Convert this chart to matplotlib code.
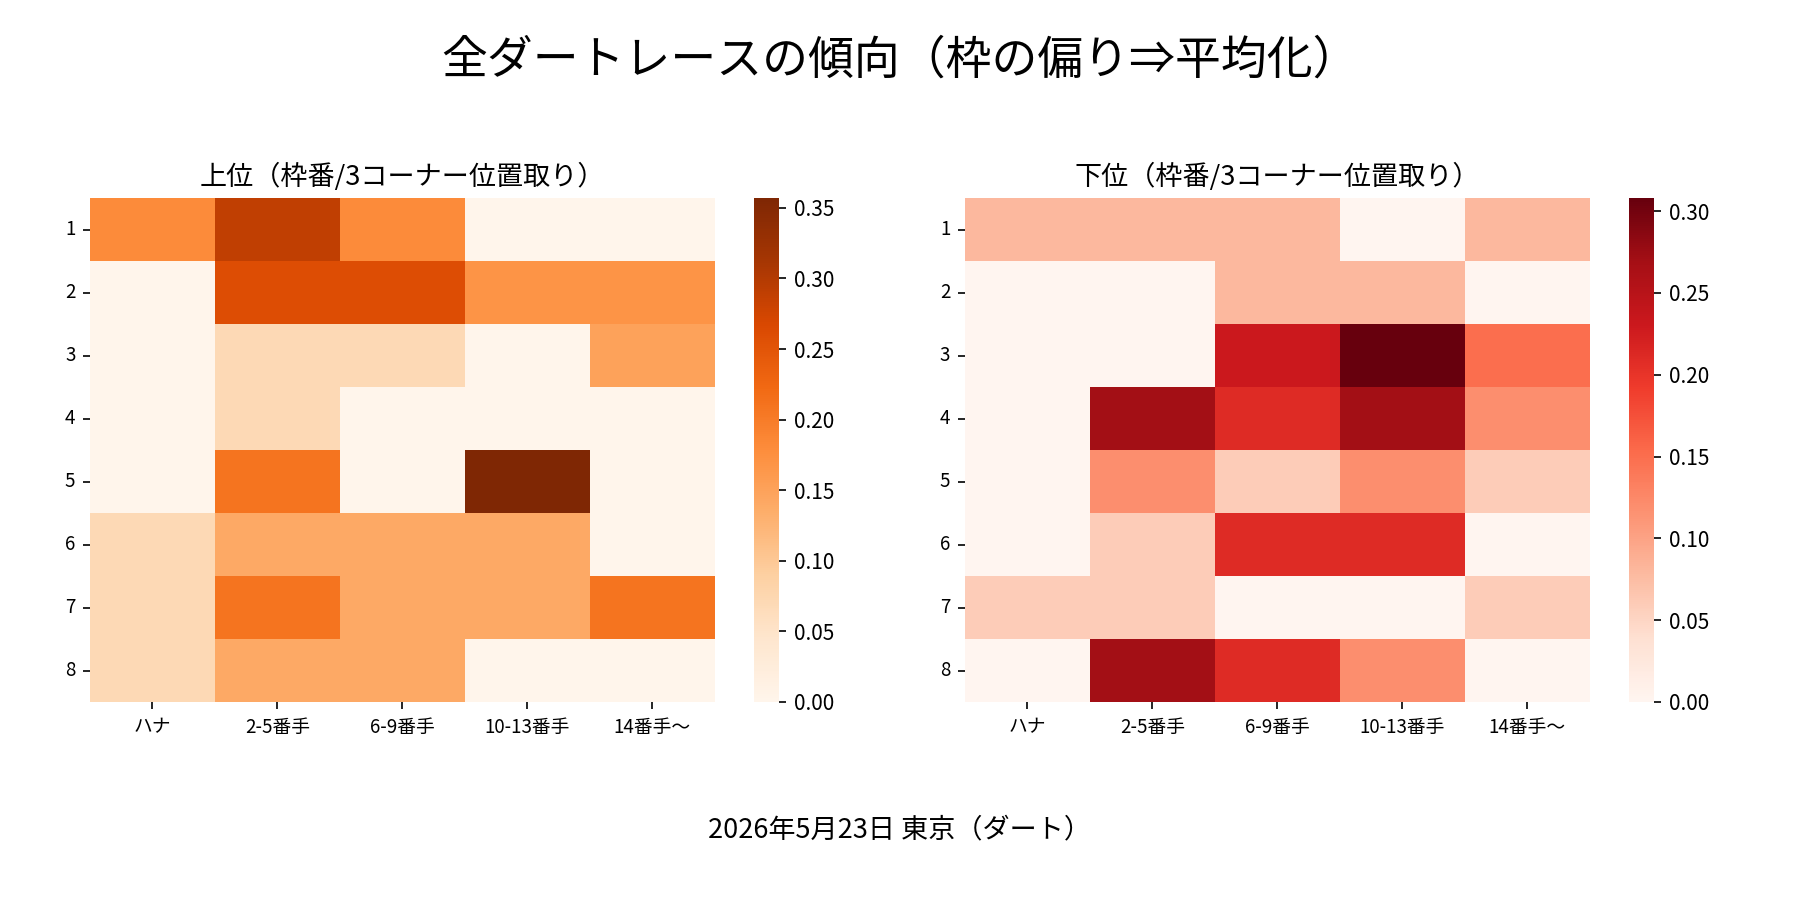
import matplotlib
matplotlib.use("Agg")
import matplotlib.pyplot as plt
import numpy as np
import seaborn as sns

plt.rcParams['font.family'] = ['Noto Sans CJK JP', 'DejaVu Sans']

cols = ["ハナ", "2-5番手", "6-9番手", "10-13番手", "14番手〜"]
rows = ["1", "2", "3", "4", "5", "6", "7", "8"]

upper = np.array([
    [0.18, 0.29, 0.18, 0.00, 0.00],
    [0.00, 0.26, 0.26, 0.17, 0.17],
    [0.00, 0.07, 0.07, 0.00, 0.15],
    [0.00, 0.07, 0.00, 0.00, 0.00],
    [0.00, 0.21, 0.00, 0.357, 0.00],
    [0.07, 0.14, 0.14, 0.14, 0.00],
    [0.07, 0.21, 0.14, 0.14, 0.21],
    [0.07, 0.14, 0.14, 0.00, 0.00],
])
lower = np.array([
    [0.08, 0.08, 0.08, 0.00, 0.08],
    [0.00, 0.00, 0.08, 0.08, 0.00],
    [0.00, 0.00, 0.23, 0.308, 0.15],
    [0.00, 0.27, 0.21, 0.27, 0.12],
    [0.00, 0.12, 0.06, 0.12, 0.06],
    [0.00, 0.06, 0.21, 0.21, 0.00],
    [0.06, 0.06, 0.00, 0.00, 0.06],
    [0.00, 0.27, 0.21, 0.12, 0.00],
])

fig, axes = plt.subplots(1, 2, figsize=(12, 6), dpi=150)
fig.subplots_adjust(left=0.05, right=0.97, top=0.78, bottom=0.22, wspace=0.12)
for ax, data, cmap, title in [(axes[0], upper, "Oranges", "上位（枠番/3コーナー位置取り）"),
                              (axes[1], lower, "Reds", "下位（枠番/3コーナー位置取り）")]:
    sns.heatmap(data, ax=ax, cmap=cmap, xticklabels=cols, yticklabels=rows)
    ax.set_title(title, fontsize=13)
    ax.tick_params(labelsize=9)
    ax.set_yticklabels(rows, rotation=0)
    ax.collections[0].colorbar.ax.tick_params(labelsize=10)

fig.suptitle("全ダートレースの傾向（枠の偏り⇒平均化）", fontsize=22, y=0.96)
fig.text(0.5, 0.07, "2026年5月23日 東京（ダート）", ha="center", fontsize=13)
plt.savefig("out.png")
